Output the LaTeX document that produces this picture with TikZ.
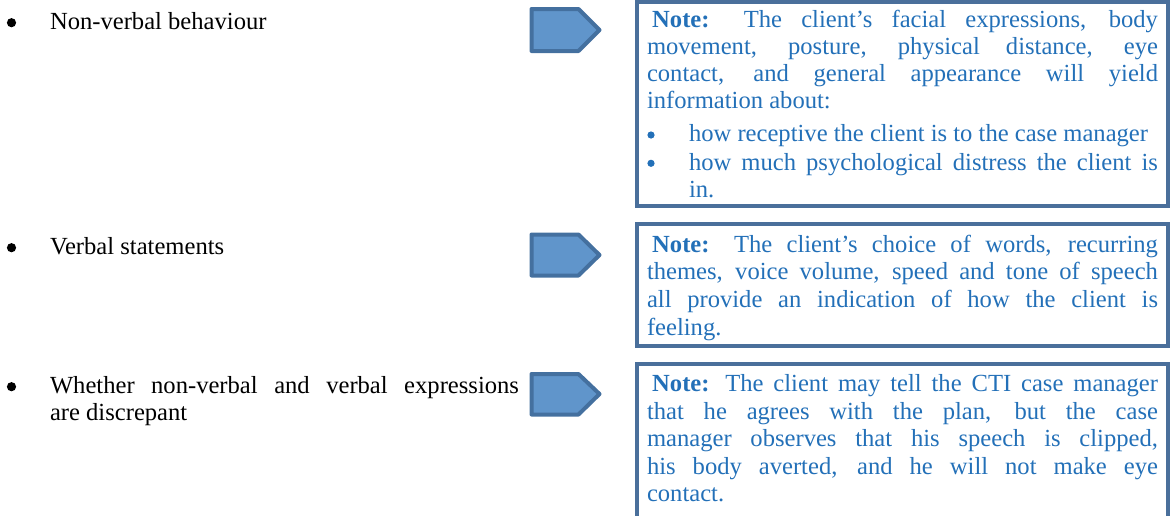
\documentclass[tikz,border=0pt]{standalone}
\usepackage{fontspec}
\setmainfont{Liberation Serif}
\definecolor{arrowfill}{HTML}{6095CB}
\definecolor{arrowline}{HTML}{44709F}
\definecolor{boxline}{HTML}{4A6F9B}
\definecolor{notecolor}{HTML}{2370B8}
\begin{document}
\begin{tikzpicture}[x=0.5pt,y=-0.5pt,
  pointer/.style={draw=arrowline, fill=arrowfill, line width=2pt, line join=round},
  notebox/.style={draw=boxline, line width=2pt},
  bodytext/.style={anchor=base west, inner sep=0pt, outer sep=0pt, text=black,
    font=\fontsize{12.3}{13.75}\selectfont},
  notetext/.style={bodytext, text=notecolor},
  dotmark/.style={circle, fill=black, inner sep=0pt, minimum size=4.6pt},
  notedot/.style={circle, fill=notecolor, inner sep=0pt, minimum size=3.6pt},
]
\clip (0,0) rectangle (1174,515);

% framed notes on the right
\draw[notebox] (637,2) rectangle (1168,206);
\draw[notebox] (637,224) rectangle (1168,346);
\draw[notebox] (637,364) rectangle (1168,530);

% pentagon pointers
\draw[pointer] (531.5,9) -- (578.5,9) -- (599.5,30) -- (578.5,51) -- (531.5,51) -- cycle;
\draw[pointer] (531.5,234.5) -- (578.5,234.5) -- (599.5,255) -- (578.5,275.5) -- (531.5,275.5) -- cycle;
\draw[pointer] (531.5,374) -- (578.5,374) -- (599.5,394) -- (578.5,414.5) -- (531.5,414.5) -- cycle;

% left-hand bullet list
\node[dotmark] (d1) at (11.5,22.7) {};
\node[bodytext] (t1) at (50,29) {Non-verbal behaviour};
\node[dotmark] (d2) at (11.5,247.7) {};
\node[bodytext] (t2) at (50,254) {Verbal statements};
\node[dotmark] (d3) at (11.5,386.7) {};
\node[bodytext] (t3) at (50,393) {\parbox[t]{234.5pt}{Whether non-verbal and verbal expressions \linebreak are discrepant}};

% first note
\node[notetext, font=\fontsize{12.3}{13.5}\selectfont] (n1) at (647,27) {\parbox[t]{255.5pt}{\hspace*{2.6pt}\textbf{Note:} The client’s facial expressions, body \linebreak movement, posture, physical distance, eye \linebreak contact, and general appearance will yield \linebreak information about:}};
\node[notedot] (m1) at (651,135) {};
\node[notetext] (n1b) at (689,141.7) {how receptive the client is to the case manager};
\node[notedot] (m2) at (651,163.3) {};
\node[notetext, font=\fontsize{12.3}{13.5}\selectfont] (n1c) at (689,170) {\parbox[t]{234.5pt}{how much psychological distress the client is \linebreak in.}};

% second note
\node[notetext, font=\fontsize{12.3}{13.85}\selectfont] (n2) at (647,252) {\parbox[t]{255.5pt}{\hspace*{2.6pt}\textbf{Note:} The client’s choice of words, recurring \linebreak themes, voice volume, speed and tone of speech \linebreak all provide an indication of how the client is \linebreak feeling.}};

% third note
\node[notetext, font=\fontsize{12.3}{13.75}\selectfont] (n3) at (647,391.7) {\parbox[t]{255.5pt}{\hspace*{2.6pt}\textbf{Note:} The client may tell the CTI case manager \linebreak that he agrees with the plan, but the case \linebreak manager observes that his speech is clipped, \linebreak his body averted, and he will not make eye \linebreak contact.}};
\end{tikzpicture}
\end{document}
